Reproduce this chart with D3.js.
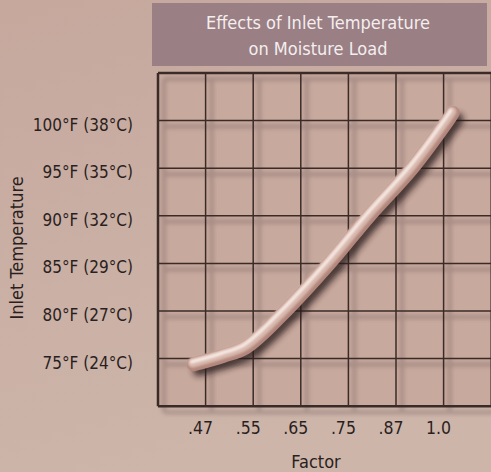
<!DOCTYPE html>
<html>
<head>
<meta charset="utf-8">
<script src="https://cdn.jsdelivr.net/npm/d3@7"></script>
<style>
  html, body { margin: 0; padding: 0; background: #c9ada2; }
  svg { display: block; }
  text { font-family: "DejaVu Sans Condensed", "Liberation Sans Narrow", sans-serif; }
</style>
</head>
<body>
<script>
// ---- data ----
const titleLines = ["Effects of Inlet Temperature", "on Moisture Load"];
const factorValues = [0.47, 0.55, 0.65, 0.75, 0.87, 1.0];
const factorLabels = [".47", ".55", ".65", ".75", ".87", "1.0"];
const tempValues = [75, 80, 85, 90, 95, 100];
const tempLabels = ["75°F (24°C)", "80°F (27°C)", "85°F (29°C)", "90°F (32°C)", "95°F (35°C)", "100°F (38°C)"];
const curveFactor = [0.450, 0.500, 0.538, 0.610, 0.710, 0.8025, 0.914, 1.011, 1.025];
const curveTemp   = [74.4, 75.3, 76.2, 79.6, 85.0, 90.0, 95.0, 100.0, 100.8];
const xTitle = "Factor";
const yTitle = "Inlet Temperature";

// ---- layout ----
const W = 491, H = 472;
const plot = { left: 158, top: 73, cell: 47.6, cols: 7, rows: 7 };
plot.right = plot.left + plot.cell * plot.cols;
plot.bottom = plot.top + plot.cell * plot.rows;

const svg = d3.select("body").append("svg").attr("width", W).attr("height", H);
const defs = svg.append("defs");

const bg = defs.append("linearGradient").attr("id", "bg").attr("x1", 0).attr("y1", 0).attr("x2", 0.3).attr("y2", 1);
bg.append("stop").attr("offset", 0).attr("stop-color", "#c6a89d");
bg.append("stop").attr("offset", 1).attr("stop-color", "#cdb5aa");

const blur = (id, s) => defs.append("filter").attr("id", id)
  .attr("x", "-20%").attr("y", "-20%").attr("width", "140%").attr("height", "140%")
  .append("feGaussianBlur").attr("stdDeviation", s);
blur("b2", 2);
blur("b3", 3.2);
blur("b1", 1);

svg.append("rect").attr("width", W).attr("height", H).attr("fill", "url(#bg)");

// ---- scales ----
const x = d3.scaleLinear()
  .domain(factorValues)
  .range(factorValues.map((d, i) => plot.left + (i + 1) * plot.cell));
const y = d3.scaleLinear().domain([70, 105]).range([plot.bottom, plot.top]);

// plot background
svg.append("rect").attr("x", plot.left).attr("y", plot.top)
  .attr("width", plot.right - plot.left).attr("height", plot.bottom - plot.top)
  .attr("fill", "#c8a99e");

const vLines = d3.range(plot.cols + 1).map(i => plot.left + i * plot.cell);
const hLines = d3.range(70, 106, 5).map(v => y(v));

// grid shadow
const gs = svg.append("g").attr("transform", "translate(6,6)").attr("filter", "url(#b2)")
  .attr("stroke", "#8a7570").attr("stroke-width", 4).attr("opacity", 0.55);
gs.selectAll("line.v").data(vLines).join("line")
  .attr("x1", d => d).attr("x2", d => d).attr("y1", plot.top).attr("y2", plot.bottom);
gs.selectAll("line.h").data(hLines).join("line")
  .attr("y1", d => d).attr("y2", d => d).attr("x1", plot.left).attr("x2", plot.right);

// grid lines
const g = svg.append("g").attr("stroke", "#3a2b27").attr("stroke-width", 1.5);
g.selectAll("line.v").data(vLines).join("line")
  .attr("x1", d => d).attr("x2", d => d).attr("y1", plot.top).attr("y2", plot.bottom)
  .attr("stroke-width", (d, i) => i === 0 ? 2.5 : 1.5);
g.selectAll("line.h").data(hLines).join("line")
  .attr("y1", d => d).attr("y2", d => d).attr("x1", plot.left).attr("x2", plot.right)
  .attr("stroke-width", (d, i) => (i === 0 || i === hLines.length - 1) ? 2.5 : 1.5);

// ---- curve (tube) ----
const pts = curveFactor.map((f, i) => [f, curveTemp[i]]);
const line = d3.line().x(d => x(d[0])).y(d => y(d[1])).curve(d3.curveCatmullRom.alpha(0.5));
const pathD = line(pts);

svg.append("path").attr("d", pathD).attr("transform", "translate(5,6)")
  .attr("fill", "none").attr("stroke", "#2a1d1b").attr("stroke-width", 12)
  .attr("stroke-linecap", "round").attr("stroke-linejoin", "round")
  .attr("opacity", 0.8).attr("filter", "url(#b3)");
svg.append("path").attr("d", pathD)
  .attr("fill", "none").attr("stroke", "#b3877c").attr("stroke-width", 14)
  .attr("stroke-linecap", "round").attr("stroke-linejoin", "round");
svg.append("path").attr("d", pathD).attr("transform", "translate(-1,-1.5)")
  .attr("fill", "none").attr("stroke", "#d8b8ad").attr("stroke-width", 9.5)
  .attr("stroke-linecap", "round").attr("stroke-linejoin", "round").attr("filter", "url(#b1)");
svg.append("path").attr("d", pathD).attr("transform", "translate(-2,-2.5)")
  .attr("fill", "none").attr("stroke", "#f6e9e3").attr("stroke-width", 3.5)
  .attr("stroke-linecap", "round").attr("stroke-linejoin", "round").attr("filter", "url(#b1)");

// ---- title box ----
svg.append("rect").attr("x", 152).attr("y", 3).attr("width", 335).attr("height", 63).attr("fill", "#9a7f85");
svg.selectAll("text.title").data(titleLines).join("text")
  .attr("x", 318).attr("y", (d, i) => 29 + i * 26)
  .attr("text-anchor", "middle").attr("fill", "#f4eeee").attr("font-size", 18)
  .text(d => d);

// ---- axis labels ----
svg.selectAll("text.ylab").data(tempValues).join("text")
  .attr("x", 133).attr("y", d => y(d) + 10)
  .attr("text-anchor", "end").attr("fill", "#2a1f1e").attr("font-size", 17)
  .text((d, i) => tempLabels[i]);

svg.selectAll("text.xlab").data(factorValues).join("text")
  .attr("x", d => x(d) - 5).attr("y", 434)
  .attr("text-anchor", "middle").attr("fill", "#2a1f1e").attr("font-size", 17.5)
  .text((d, i) => factorLabels[i]);

svg.append("text").attr("x", 316).attr("y", 468).attr("text-anchor", "middle")
  .attr("fill", "#2a1f1e").attr("font-size", 18).text(xTitle);

svg.append("text").attr("transform", "translate(23,248) rotate(-90)")
  .attr("text-anchor", "middle").attr("fill", "#2a1f1e").attr("font-size", 18).text(yTitle);
</script>
</body>
</html>
